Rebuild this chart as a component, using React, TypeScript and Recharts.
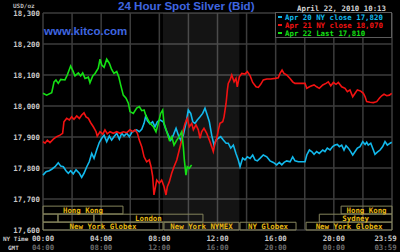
import React from "react";
import {
  LineChart,
  Line,
  XAxis,
  YAxis,
  CartesianGrid,
  ReferenceArea,
  Legend,
} from "recharts";

// hour of day (NY time), bid price in USD/oz
const apr20: [number, number][] = [
  [0, 17777], [0.21, 17788], [0.43, 17791], [0.6, 17796], [0.83, 17804], [1.05, 17817],
  [1.22, 17806], [1.4, 17804], [1.58, 17791], [1.74, 17783], [1.9, 17791], [2.08, 17781],
  [2.27, 17794], [2.5, 17783], [2.66, 17770], [2.82, 17783], [3.01, 17804], [3.18, 17820],
  [3.35, 17847], [3.51, 17831], [3.69, 17858], [3.87, 17882], [4.04, 17896], [4.2, 17906],
  [4.38, 17885], [4.56, 17903], [4.72, 17890], [4.88, 17901], [5.07, 17912], [5.25, 17893],
  [5.41, 17912], [5.57, 17903], [5.76, 17912], [5.94, 17901], [6.1, 17914], [6.26, 17920],
  [6.44, 17923], [6.62, 17917], [6.79, 17925], [6.95, 17944], [7.08, 17971], [7.17, 17953],
  [7.36, 17942], [7.54, 17949], [7.7, 17933], [7.86, 17949], [8.05, 17955], [8.27, 17949],
  [8.46, 17923], [8.62, 17906], [8.78, 17890], [8.96, 17906], [9.15, 17928], [9.31, 17906],
  [9.47, 17890], [9.65, 17906], [9.83, 17944], [9.99, 17987], [10.16, 17976], [10.3, 17949],
  [10.45, 17944], [10.61, 17955], [10.8, 17965], [10.98, 17976], [11.14, 17993], [11.26, 17976],
  [11.44, 17949], [11.6, 17906], [11.76, 17874], [11.9, 17890], [12.06, 17896], [12.22, 17901],
  [12.4, 17890], [12.59, 17880], [12.74, 17880], [12.91, 17864], [13.09, 17874], [13.27, 17847],
  [13.43, 17826], [13.55, 17804], [13.73, 17832], [13.89, 17826], [14.05, 17836], [14.24, 17831],
  [14.42, 17842], [14.58, 17826], [14.74, 17823], [14.92, 17831], [15.15, 17842], [15.39, 17836],
  [15.61, 17823], [15.84, 17818], [16.07, 17810], [16.25, 17818], [16.42, 17810], [16.58, 17818],
  [16.76, 17823], [16.99, 17820], [17.17, 17836], [17.33, 17823], [17.56, 17820], [18.02, 17820],
  [18.14, 17842], [18.32, 17858], [18.48, 17853], [18.64, 17844], [18.82, 17853], [19.0, 17847],
  [19.24, 17858], [19.39, 17853], [19.55, 17864], [19.74, 17858], [19.92, 17869], [20.08, 17874],
  [20.24, 17876], [20.38, 17869], [20.54, 17874], [20.7, 17858], [20.84, 17872], [21.0, 17864],
  [21.16, 17853], [21.3, 17842], [21.46, 17853], [21.62, 17864], [21.8, 17869], [21.99, 17885],
  [22.15, 17876], [22.26, 17883], [22.37, 17874], [22.54, 17880], [22.72, 17858], [22.83, 17844],
  [22.99, 17851], [23.18, 17858], [23.36, 17869], [23.52, 17885], [23.68, 17874], [23.87, 17880],
  [23.98, 17883],
];

const apr21: [number, number][] = [
  [0, 17885], [0.14, 17880], [0.3, 17890], [0.48, 17882], [0.71, 17893], [0.94, 17901],
  [1.17, 17906], [1.35, 17912], [1.44, 17949], [1.63, 17960], [1.81, 17955], [1.97, 17965],
  [2.13, 17957], [2.32, 17968], [2.5, 17960], [2.66, 17971], [2.82, 17978], [2.96, 17965],
  [3.12, 17960], [3.28, 17946], [3.46, 17933], [3.65, 17917], [3.73, 17903], [3.92, 17917],
  [4.11, 17909], [4.26, 17923], [4.42, 17910], [4.61, 17917], [4.83, 17912], [5.07, 17917],
  [5.3, 17912], [5.52, 17917], [5.76, 17914], [5.98, 17923], [6.17, 17917], [6.33, 17923],
  [6.49, 17912], [6.62, 17890], [6.79, 17869], [6.95, 17836], [7.13, 17820], [7.31, 17826],
  [7.43, 17804], [7.54, 17774], [7.63, 17713], [7.82, 17761], [8.0, 17751], [8.16, 17761],
  [8.32, 17740], [8.46, 17713], [8.55, 17740], [8.69, 17756], [8.85, 17783], [9.01, 17804],
  [9.2, 17826], [9.37, 17858], [9.54, 17890], [9.65, 17923], [9.77, 17944], [9.92, 17960],
  [10.06, 17933], [10.23, 17944], [10.34, 17923], [10.52, 17939], [10.68, 17923], [10.8, 17896],
  [10.91, 17917], [11.07, 17928], [11.26, 17912], [11.44, 17890], [11.6, 17869], [11.71, 17853],
  [11.83, 17880], [11.95, 17896], [12.06, 17923], [12.17, 17944], [12.36, 17949], [12.45, 17965],
  [12.59, 18009], [12.68, 18052], [12.74, 18073], [12.86, 18084], [12.98, 18100], [13.14, 18078],
  [13.27, 18089], [13.36, 18062], [13.5, 18094], [13.67, 18105], [13.89, 18103], [14.05, 18111],
  [14.24, 18098], [14.42, 18076], [14.65, 18062], [14.81, 18060], [14.97, 18070], [15.15, 18084],
  [15.39, 18087], [15.66, 18087], [15.96, 18089], [16.18, 18091], [16.3, 18105], [16.44, 18116],
  [16.57, 18105], [16.76, 18100], [16.99, 18089], [17.17, 18078], [17.33, 18073], [17.68, 18073],
  [18.02, 18073], [18.14, 18057], [18.32, 18062], [18.48, 18065], [18.64, 18068], [18.82, 18062],
  [19.0, 18057], [19.24, 18068], [19.46, 18073], [19.62, 18078], [19.79, 18065], [19.97, 18076],
  [20.15, 18070], [20.31, 18076], [20.54, 18062], [20.77, 18057], [20.93, 18046], [21.11, 18052],
  [21.3, 18030], [21.46, 18041], [21.62, 18052], [21.85, 18048], [22.03, 18041], [22.15, 18030],
  [22.26, 18014], [22.49, 18012], [22.72, 18011], [22.95, 18014], [23.13, 18025], [23.29, 18033],
  [23.45, 18038], [23.64, 18033], [23.82, 18035], [23.98, 18041],
];

const apr22: [number, number][] = [
  [0, 18041], [0.25, 18035], [0.6, 18043], [0.76, 18078], [0.89, 18084], [1.05, 18073],
  [1.22, 18086], [1.51, 18084], [1.67, 18100], [1.9, 18129], [2.08, 18111], [2.2, 18097],
  [2.43, 18107], [2.59, 18097], [2.73, 18107], [2.89, 18089], [3.12, 18093], [3.23, 18075],
  [3.42, 18097], [3.58, 18105], [3.8, 18122], [3.92, 18151], [4.04, 18132], [4.2, 18125],
  [4.38, 18151], [4.56, 18138], [4.72, 18118], [4.88, 18105], [5.07, 18111], [5.21, 18094],
  [5.34, 18068], [5.52, 18035], [5.71, 18025], [5.87, 18009], [5.98, 17982], [6.21, 17976],
  [6.44, 17993], [6.62, 17998], [6.79, 17985], [6.95, 17987], [7.08, 17968], [7.36, 17944],
  [7.59, 17933], [7.77, 17917], [7.93, 17944], [8.09, 17976], [8.23, 17987], [8.32, 17944],
  [8.51, 17917], [8.69, 17890], [8.85, 17901], [9.01, 17874], [9.2, 17890], [9.37, 17901],
  [9.54, 17917], [9.65, 17869], [9.72, 17826], [9.83, 17777], [9.92, 17804], [10.06, 17799],
  [10.22, 17810],
];

const seriesNames = ["Apr 20 NY close 17,820", "Apr 21 NY close 18,070", "Apr 22 Last 17,810"];
const seriesColors = ["#12b9ec", "#f21212", "#14e014"];

const priceTicks = [17600, 17700, 17800, 17900, 18000, 18100, 18200, 18300];
const hourTicks = [0, 4, 8, 12, 16, 20, 24];
const gridHours = [0, 2, 4, 6, 8, 10, 12, 14, 16, 18, 20, 22, 24];
const nyLabels = ["00:00", "04:00", "08:00", "12:00", "16:00", "20:00", "23:59"];
const gmtLabels = ["04:00", "08:00", "12:00", "16:00", "20:00", "00:00", "03:59"];

// NY trading session (shaded)
const nySession = [8.25, 13.5];

// market session boxes along the bottom
const sessionLabels = ["Hong Kong", "", "", "London", "New York Globex", "New York NYMEX", "NY Globex", "New York Globex", "Sydney", "Hong Kong"];
const sessionStart = [0, 0, 1.03, 3.5, 0, 8.32, 13.55, 18.09, 19.0, 20.5];
const sessionEnd = [5.5, 1.03, 3.5, 11.0, 8.25, 13.48, 17.4, 24, 24, 24];
const sessionRow = [0, 1, 1, 1, 2, 2, 2, 2, 1, 0];
const rowLow = [17652, 17626, 17600];
const rowHigh = [17677, 17651, 17625];

const toPoints = (pts: [number, number][]) => pts.map(([t, v]) => ({ t, v }));

const MONO = "'DejaVu Sans Mono', 'Liberation Mono', monospace";

const TimeTick = (props: any) => {
  const { x, y, payload } = props;
  const i = hourTicks.indexOf(payload.value);
  // last label sits inside the right edge
  const cx = i === hourTicks.length - 1 ? x - 6.5 : x;
  return (
    <g>
      <text x={cx} y={y + 11} textAnchor="middle" fill="#c8c8c8" fontSize={7.4} fontFamily={MONO} fontWeight="bold">
        {nyLabels[i]}
      </text>
      <text x={cx} y={y + 19.5} textAnchor="middle" fill="#6a6a6a" fontSize={7.4} fontFamily={MONO} fontWeight="bold">
        {gmtLabels[i]}
      </text>
    </g>
  );
};

const LegendBox = () => (
  <svg width={117} height={26} style={{ display: "block" }}>
    <rect x={0.5} y={0.5} width={116} height={25} fill="#000" stroke="#5c5c5c" />
    {seriesNames.map((name, i) => (
      <g key={name}>
        <rect x={3} y={4 + i * 8} width={4} height={2} fill={seriesColors[i]} />
        <text x={10} y={8 + i * 8} fill={seriesColors[i]} fontSize={7.4} fontFamily={MONO} fontWeight="bold">
          {name}
        </text>
      </g>
    ))}
  </svg>
);

export default function App() {
  const lines = [apr20, apr21, apr22];
  return (
    <div style={{ position: "absolute", left: 0, top: 0, width: 400, height: 252, background: "#000", overflow: "hidden" }}>
      <LineChart width={400} height={252} margin={{ top: 13, right: 8, bottom: 0, left: 0 }}>
        <ReferenceArea x1={nySession[0]} x2={nySession[1]} fill="#ffffff" fillOpacity={0.08} stroke="none" />
        <CartesianGrid stroke="#3c3c3c" strokeWidth={1.5} verticalValues={gridHours} horizontalValues={priceTicks} />
        <XAxis
          type="number"
          dataKey="t"
          domain={[0, 24]}
          ticks={hourTicks}
          interval={0}
          axisLine={false}
          tickLine={false}
          tickSize={0}
          tickMargin={0}
          height={22}
          tick={<TimeTick />}
          allowDuplicatedCategory={false}
        />
        <YAxis
          type="number"
          domain={[17600, 18300]}
          ticks={priceTicks}
          interval={0}
          width={43}
          axisLine={false}
          tickLine={false}
          tickSize={0}
          tickMargin={3}
          tickFormatter={(v: number) => v.toLocaleString("en-US")}
          tick={{ fill: "#c8c8c8", fontSize: 7.4, fontFamily: MONO, fontWeight: "bold" }}
        />
        {sessionLabels.map((label, i) => (
          <ReferenceArea
            key={i}
            x1={sessionStart[i]}
            x2={sessionEnd[i]}
            y1={rowLow[sessionRow[i]]}
            y2={rowHigh[sessionRow[i]]}
            fill="none"
            stroke="#85845c"
            strokeWidth={1}
            label={{ value: label, position: "center", fill: "#e6b814", fontSize: 7.4, fontFamily: MONO, fontWeight: "bold" }}
          />
        ))}
        {lines.map((pts, i) => (
          <Line
            key={seriesNames[i]}
            data={toPoints(pts)}
            dataKey="v"
            name={seriesNames[i]}
            type="linear"
            stroke={seriesColors[i]}
            strokeWidth={1.6}
            dot={false}
            isAnimationActive={false}
          />
        ))}
        <Legend
          layout="vertical"
          align="center"
          verticalAlign="middle"
          content={<LegendBox />}
          wrapperStyle={{ left: 275, top: 12, width: 117, height: 26 }}
        />
      </LineChart>
      <svg width={400} height={252} style={{ position: "absolute", left: 0, top: 0, pointerEvents: "none" }}>
        <text x={13} y={8} fill="#bdbdbd" fontSize={6} fontFamily={MONO} fontWeight="bold">USD/oz</text>
        <text x={118} y={10} fill="#3f66e0" fontSize={11.6} fontFamily="'Liberation Sans', Arial, sans-serif" fontWeight="bold">
          24 Hour Spot Silver (Bid)
        </text>
        <text x={297} y={10.5} fill="#d4d4d4" fontSize={7.4} fontFamily={MONO} fontWeight="bold">April 22, 2010 10:13</text>
        <text x={44} y={35} fill="#3f66e0" fontSize={11.5} fontFamily="'Liberation Sans', Arial, sans-serif" fontWeight="bold">
          www.kitco.com
        </text>
        <text x={3} y={241} fill="#c8c8c8" fontSize={6} fontFamily={MONO} fontWeight="bold">NY Time</text>
        <text x={8} y={249.5} fill="#c8c8c8" fontSize={6} fontFamily={MONO} fontWeight="bold">GMT</text>
      </svg>
    </div>
  );
}
